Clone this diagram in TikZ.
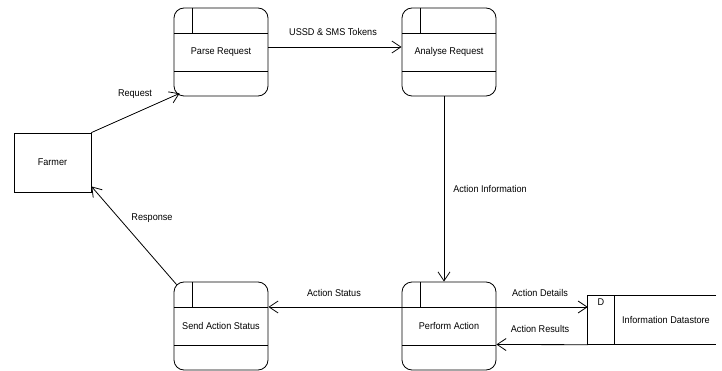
\documentclass[tikz,border=0pt]{standalone}
\usepackage{fontspec}
\setmainfont{Liberation Sans}[FakeStretch=0.93]
\usetikzlibrary{arrows.meta,positioning}
\tikzset{
  process/.style={draw,line width=0.8pt,rounded corners=10pt,
    minimum width=94pt,minimum height=88pt,inner sep=0pt,
    path picture={
      \draw[sharp corners,line width=0.8pt]
        ([yshift=-25pt]path picture bounding box.north west) --
        ([yshift=-25pt]path picture bounding box.north east)
        ([yshift=25pt]path picture bounding box.south west) --
        ([yshift=25pt]path picture bounding box.south east)
        ([xshift=18pt]path picture bounding box.north west) --
        ([xshift=18pt,yshift=-25pt]path picture bounding box.north west);
    }},
  entity/.style={draw,line width=0.8pt,minimum width=77pt,minimum height=59pt},
  store/.style={minimum width=128pt,minimum height=49pt,inner sep=0pt},
  flow/.style={line width=0.8pt,-{Straight Barb[length=9pt,width=12pt]}},
  lbl/.style={inner sep=1pt},
  every node/.style={font=\fontsize{9.8}{11}\selectfont}
}

\begin{document}
\begin{tikzpicture}[x=1pt,y=-1pt]
  \useasboundingbox (0,0) rectangle (722,371);

  % External entity
  \node[entity] (farmer) at (52.5,162.5) {Farmer};

  % Processes
  \node[process] (parse)   at (221,52)  {Parse Request};
  \node[process] (analyse) at (449,52)  {Analyse Request};
  \node[process] (send)    at (221,326) {Send Action Status};
  \node[process] (perform) at (449,326) {Perform Action};

  % Data store
  \node[store] (store) at (652,320) {};
  \draw[line width=0.8pt] (store.north east) -- (store.north west)
    -- (store.south west) -- (store.south east);
  \draw[line width=0.8pt] ([xshift=27pt]store.north west) -- ([xshift=27pt]store.south west);
  \node (storeid) at (601,302) {D};
  \node (storename) at (666,320) {Information Datastore};

  % Flows
  \draw[flow] (farmer.north east) -- ([xshift=6pt,yshift=3pt]parse.south west);
  \draw[flow] ([yshift=5pt]parse.east) -- ([yshift=5pt]analyse.west);
  \draw[flow] ([xshift=-5pt]analyse.south) -- ([xshift=-5pt]perform.north);
  \draw[flow] ([yshift=19pt]perform.west) -- ([yshift=19pt]send.east);
  \draw[flow] ([xshift=3pt,yshift=-3pt]send.north west) -- ([yshift=6pt]farmer.south east);
  \draw[flow] ([yshift=19pt]perform.east) -- ([yshift=13pt]store.west);
  \draw[flow] (store.south west) -- ([yshift=-18.5pt]perform.east);

  % Flow labels
  \node[lbl] (lrequest)  at (135,94)  {Request};
  \node[lbl] (ltokens)   at (333,32)  {USSD \& SMS Tokens};
  \node[lbl] (linfo)     at (490,189) {Action Information};
  \node[lbl] (lstatus)   at (334,293) {Action Status};
  \node[lbl] (lresponse) at (152,218) {Response};
  \node[lbl] (ldetails)  at (540,293) {Action Details};
  \node[lbl] (lresults)  at (540,329) {Action Results};
\end{tikzpicture}
\end{document}
